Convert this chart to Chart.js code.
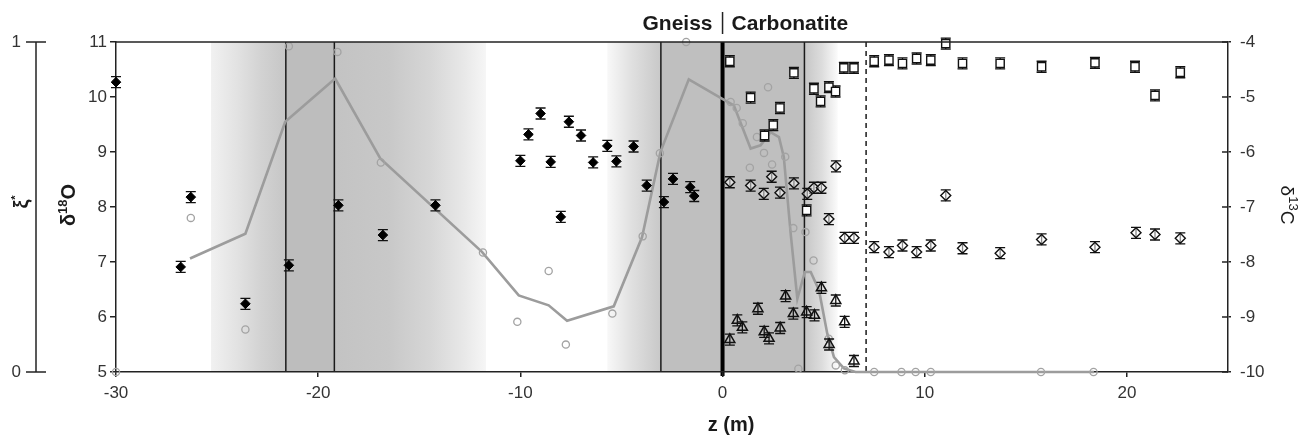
<!DOCTYPE html>
<html>
<head>
<meta charset="utf-8">
<script src="https://cdn.jsdelivr.net/npm/chart.js@4/dist/chart.umd.min.js"></script>
<style>
body { margin: 0; background: #fff; }
#wrap { width: 1305px; height: 437px; position: relative; }
</style>
</head>
<body>
<div id="wrap"><canvas id="grafico"></canvas></div>
<script>
// ticks
const xTicks = [-30, -20, -10, 0, 10, 20];
const d18OTicks = [5, 6, 7, 8, 9, 10, 11];
const d13CTicks = [-10, -9, -8, -7, -6, -5, -4];

// gneiss, δ18O (filled diamonds)
const gneissZ = [-30.0, -26.8, -26.3, -23.6, -21.45, -19.0, -16.8, -14.2, -10.0, -9.6, -9.0, -8.5, -8.0, -7.6, -7.0, -6.4, -5.7, -5.25, -4.4, -3.75, -2.9, -2.45, -1.6, -1.4];
const gneissD18O = [10.27, 6.91, 8.18, 6.24, 6.94, 8.03, 7.49, 8.03, 8.84, 9.32, 9.70, 8.82, 7.82, 9.55, 9.30, 8.81, 9.11, 8.83, 9.10, 8.39, 8.09, 8.51, 8.36, 8.20];

// ξ measured (grey circles)
const xiZ = [-30.0, -26.3, -23.6, -21.45, -19.05, -16.9, -11.85, -10.15, -8.6, -7.75, -5.45, -3.95, -3.1, -1.8, 0.4, 0.7, 1.0, 1.35, 1.7, 2.05, 2.25, 2.45, 3.1, 3.5, 3.75, 4.1, 4.5, 5.25, 5.6, 6.05, 7.5, 8.85, 9.55, 10.3, 15.75, 18.35];
const xiObs = [0, 0.467, 0.129, 0.987, 0.97, 0.635, 0.362, 0.152, 0.306, 0.083, 0.177, 0.411, 0.663, 1.0, 0.818, 0.80, 0.754, 0.619, 0.712, 0.664, 0.863, 0.629, 0.652, 0.436, 0.01, 0.424, 0.338, 0.101, 0.02, 0.005, 0, 0, 0, 0, 0, 0];

// ξ model (grey line)
const modelZ = [-26.34, -23.6, -21.63, -19.16, -16.93, -11.9, -10.08, -8.6, -7.69, -5.38, -3.98, -3.07, -1.67, -0.01, 0.56, 0.94, 1.39, 1.88, 2.38, 2.79, 3.03, 3.37, 3.7, 4.07, 4.36, 4.77, 5.18, 5.51, 6.0, 6.58, 18.37];
const modelXi = [0.344, 0.419, 0.758, 0.889, 0.647, 0.364, 0.232, 0.202, 0.155, 0.199, 0.409, 0.667, 0.887, 0.828, 0.808, 0.748, 0.677, 0.687, 0.727, 0.712, 0.652, 0.419, 0.222, 0.303, 0.303, 0.248, 0.116, 0.045, 0.011, 0, 0];

// carbonatite, δ13C (open squares)
const squareZ = [0.36, 1.39, 2.08, 2.51, 2.84, 3.53, 4.16, 4.52, 4.85, 5.26, 5.59, 6.0, 6.5, 7.5, 8.23, 8.9, 9.6, 10.3, 11.04, 11.87, 13.73, 15.78, 18.42, 20.4, 21.39, 22.64];
const squareD13C = [-4.35, -5.01, -5.70, -5.51, -5.20, -4.56, -7.06, -4.85, -5.08, -4.82, -4.90, -4.47, -4.47, -4.35, -4.33, -4.39, -4.30, -4.33, -4.03, -4.39, -4.39, -4.45, -4.38, -4.45, -4.97, -4.55];

// carbonatite, δ18O (open diamonds)
const diamondZ = [0.36, 1.39, 2.04, 2.43, 2.84, 3.53, 4.19, 4.52, 4.89, 5.26, 5.61, 6.04, 6.5, 7.5, 8.23, 8.9, 9.6, 10.3, 11.04, 11.87, 13.73, 15.78, 18.42, 20.45, 21.39, 22.64];
const diamondD18O = [8.45, 8.39, 8.24, 8.55, 8.26, 8.43, 8.24, 8.35, 8.35, 7.78, 8.74, 7.44, 7.44, 7.27, 7.18, 7.30, 7.18, 7.30, 8.21, 7.25, 7.16, 7.41, 7.27, 7.53, 7.50, 7.43];

// carbonatite, δ18O (open triangles)
const triangleZ = [0.36, 0.73, 0.98, 1.75, 2.06, 2.3, 2.85, 3.12, 3.5, 4.16, 4.55, 4.89, 5.27, 5.6, 6.04, 6.5];
const triangleD18O = [5.59, 5.94, 5.81, 6.15, 5.73, 5.61, 5.80, 6.38, 6.06, 6.09, 6.03, 6.53, 5.50, 6.30, 5.91, 5.20];

// zone boundaries (z, m)
const boxLines = [-21.6, -19.2, -3.05, 4.05];
const contactZ = 0;
const dashedZ = 7.1;
const bands = [
    [[-25.3, '#f1f1f1'], [-24, '#e2e2e2'], [-22.8, '#d2d2d2'], [-21.6, '#c6c6c6'], [-21.6, '#bdbdbd'], [-19.2, '#bdbdbd'], [-19.2, '#c3c3c3'], [-16.5, '#c8c8c8'], [-14.5, '#d6d6d6'], [-12.8, '#e8e8e8'], [-11.7, '#f6f6f6']],
    [[-5.7, '#f8f8f8'], [-4.5, '#e0e0e0'], [-3.05, '#c8c8c8'], [-3.05, '#bfbfbf'], [4.05, '#bfbfbf'], [4.05, '#c6c6c6'], [4.9, '#dcdcdc'], [5.7, '#fbfbfb']]
];

const FONT = "'Liberation Sans', Arial, sans-serif";
const pts = (xs, ys) => xs.map((x, i) => ({ x: x, y: ys[i] }));

function drawParts(ctx, parts, cx, cy) {
    let total = 0;
    parts.forEach(p => { ctx.font = p[1]; p.w = ctx.measureText(p[0]).width; total += p.w; });
    let x = cx - total / 2;
    ctx.textAlign = 'left';
    ctx.textBaseline = 'alphabetic';
    parts.forEach(p => { ctx.font = p[1]; ctx.fillText(p[0], x, cy + p[2]); x += p.w; });
}

const overlay = {
    id: 'overlay',
    beforeDraw(chart) {
        const { ctx, chartArea: a, scales: { x } } = chart;
        ctx.save();
        bands.forEach(stops => {
            const x0 = x.getPixelForValue(stops[0][0]);
            const x1 = x.getPixelForValue(stops[stops.length - 1][0]);
            const g = ctx.createLinearGradient(x0, 0, x1, 0);
            stops.forEach(s => g.addColorStop((x.getPixelForValue(s[0]) - x0) / (x1 - x0), s[1]));
            ctx.fillStyle = g;
            ctx.fillRect(x0, a.top, x1 - x0, a.bottom - a.top);
        });
        ctx.strokeStyle = '#1a1a1a';
        ctx.lineWidth = 1.5;
        boxLines.forEach(z => {
            const px = x.getPixelForValue(z);
            ctx.beginPath(); ctx.moveTo(px, a.top); ctx.lineTo(px, a.bottom); ctx.stroke();
        });
        ctx.setLineDash([5, 4]);
        const dx = x.getPixelForValue(dashedZ);
        ctx.beginPath(); ctx.moveTo(dx, a.top); ctx.lineTo(dx, a.bottom); ctx.stroke();
        ctx.setLineDash([]);
        ctx.lineWidth = 4;
        ctx.strokeStyle = '#000';
        const cx = x.getPixelForValue(contactZ);
        ctx.beginPath(); ctx.moveTo(cx, a.top); ctx.lineTo(cx, a.bottom + 4); ctx.stroke();
        ctx.restore();
    },
    beforeDatasetDraw(chart, args) {
        const ds = chart.data.datasets[args.index];
        if (!ds.err) return;
        const { ctx } = chart;
        const yScale = chart.scales[args.meta.yAxisID];
        ctx.save();
        ctx.strokeStyle = '#111';
        ctx.lineWidth = 1.3;
        args.meta.data.forEach((pt, i) => {
            const v = ds.data[i].y;
            const y1 = yScale.getPixelForValue(v + ds.err);
            const y2 = yScale.getPixelForValue(v - ds.err);
            ctx.beginPath();
            ctx.moveTo(pt.x, y1); ctx.lineTo(pt.x, y2);
            ctx.moveTo(pt.x - 5, y1); ctx.lineTo(pt.x + 5, y1);
            ctx.moveTo(pt.x - 5, y2); ctx.lineTo(pt.x + 5, y2);
            ctx.stroke();
        });
        ctx.restore();
    },
    afterDraw(chart) {
        const { ctx, chartArea: a, scales: { x, y2, yXi } } = chart;
        ctx.save();
        ctx.strokeStyle = '#222';
        ctx.lineWidth = 1.5;
        // top frame
        ctx.beginPath(); ctx.moveTo(a.left, a.top); ctx.lineTo(a.right, a.top); ctx.stroke();
        // inner ticks on right axis
        d13CTicks.forEach(v => {
            const py = y2.getPixelForValue(v);
            ctx.beginPath(); ctx.moveTo(a.right - 6, py); ctx.lineTo(a.right, py); ctx.stroke();
        });
        // ξ axis
        const ax = 36;
        ctx.beginPath(); ctx.moveTo(ax, yXi.getPixelForValue(0)); ctx.lineTo(ax, yXi.getPixelForValue(1)); ctx.stroke();
        ctx.fillStyle = '#333';
        ctx.font = '17px ' + FONT;
        ctx.textAlign = 'right';
        ctx.textBaseline = 'middle';
        [0, 1].forEach(v => {
            const py = yXi.getPixelForValue(v);
            ctx.beginPath(); ctx.moveTo(ax - 10, py); ctx.lineTo(ax + 10, py); ctx.stroke();
            ctx.fillText(String(v), 21, py);
        });

        ctx.fillStyle = '#1a1a1a';
        // ξ* label
        ctx.save();
        ctx.translate(21, 202);
        ctx.rotate(-Math.PI / 2);
        drawParts(ctx, [['ξ', 'bold 20px ' + FONT, 0], ['*', 'bold 11px ' + FONT, -9]], 0, 7);
        ctx.restore();
        // δ18O label
        ctx.save();
        ctx.translate(68, 205);
        ctx.rotate(-Math.PI / 2);
        drawParts(ctx, [['δ', 'bold 20px ' + FONT, 0], ['18', 'bold 13px ' + FONT, -8], ['O', 'bold 20px ' + FONT, 0]], 0, 7);
        ctx.restore();
        // δ13C label
        ctx.save();
        ctx.translate(1288, 205);
        ctx.rotate(Math.PI / 2);
        drawParts(ctx, [['δ', '19px ' + FONT, 0], ['13', '13px ' + FONT, -8], ['C', '19px ' + FONT, 0]], 0, 7);
        ctx.restore();
        // z (m)
        ctx.font = 'bold 20px ' + FONT;
        ctx.textAlign = 'center';
        ctx.textBaseline = 'middle';
        ctx.fillText('z (m)', 731, 425);
        // Gneiss | Carbonatite
        const x0 = x.getPixelForValue(contactZ);
        ctx.font = 'bold 21px ' + FONT;
        ctx.textBaseline = 'alphabetic';
        ctx.textAlign = 'right';
        ctx.fillText('Gneiss', x0 - 10, 30);
        ctx.textAlign = 'left';
        ctx.fillText('Carbonatite', x0 + 9, 30);
        ctx.beginPath(); ctx.moveTo(x0, 12); ctx.lineTo(x0, 34); ctx.stroke();
        ctx.restore();
    }
};

const tickFont = { family: FONT, size: 17 };

new Chart(document.getElementById('grafico'), {
    type: 'scatter',
    data: {
        datasets: [
            {
                data: pts(gneissZ, gneissD18O), yAxisID: 'y', err: 0.1,
                pointStyle: 'rectRot', pointRadius: 4.8, backgroundColor: '#000', borderColor: '#000', borderWidth: 1
            },
            {
                data: pts(squareZ, squareD13C), yAxisID: 'y2', err: 0.1,
                pointStyle: 'rect', pointRadius: 5.8, backgroundColor: '#fff', borderColor: '#111', borderWidth: 1.4
            },
            {
                data: pts(diamondZ, diamondD18O), yAxisID: 'y', err: 0.1,
                pointStyle: 'rectRot', pointRadius: 5, backgroundColor: 'rgba(255,255,255,0.5)', borderColor: '#111', borderWidth: 1.4
            },
            {
                data: pts(triangleZ, triangleD18O), yAxisID: 'y', err: 0.1,
                pointStyle: 'triangle', pointRadius: 5.8, backgroundColor: 'rgba(0,0,0,0)', borderColor: '#111', borderWidth: 1.5
            },
            {
                data: pts(xiZ, xiObs), yAxisID: 'yXi',
                pointStyle: 'circle', pointRadius: 3.6, backgroundColor: 'rgba(0,0,0,0)', borderColor: '#a3a3a3', borderWidth: 1.3
            },
            {
                data: pts(modelZ, modelXi), yAxisID: 'yXi', showLine: true,
                pointRadius: 0, borderColor: '#9c9c9c', borderWidth: 2.6, tension: 0
            }
        ]
    },
    options: {
        responsive: true,
        maintainAspectRatio: false,
        animation: false,
        clip: false,
        layout: { padding: { top: 42, left: 0, right: 0, bottom: 0 } },
        plugins: { legend: { display: false }, tooltip: { enabled: false } },
        scales: {
            x: {
                type: 'linear', min: -30, max: 25,
                afterBuildTicks: s => { s.ticks = xTicks.map(v => ({ value: v })); },
                afterFit: s => { s.height = 65; },
                grid: { drawOnChartArea: false, tickLength: 5, color: '#222', lineWidth: 1.5 },
                border: { color: '#222', width: 1.5 },
                ticks: { color: '#333', font: tickFont, padding: 6, maxRotation: 0 }
            },
            y: {
                position: 'left', min: 5, max: 11,
                afterBuildTicks: s => { s.ticks = d18OTicks.map(v => ({ value: v })); },
                afterFit: s => { s.width = 116; },
                grid: { drawOnChartArea: false, tickLength: 6, color: '#222', lineWidth: 1.5 },
                border: { color: '#222', width: 1.5 },
                ticks: { color: '#333', font: tickFont, padding: 3 }
            },
            y2: {
                position: 'right', min: -10, max: -4,
                afterBuildTicks: s => { s.ticks = d13CTicks.map(v => ({ value: v })); },
                afterFit: s => { s.width = 77; },
                grid: { drawOnChartArea: false, tickLength: 3, color: '#222', lineWidth: 1.5 },
                border: { color: '#222', width: 1.5 },
                ticks: { color: '#333', font: tickFont, padding: 9 }
            },
            yXi: { type: 'linear', axis: 'y', position: 'left', display: false, min: 0, max: 1 }
        }
    },
    plugins: [overlay]
});
</script>
</body>
</html>
